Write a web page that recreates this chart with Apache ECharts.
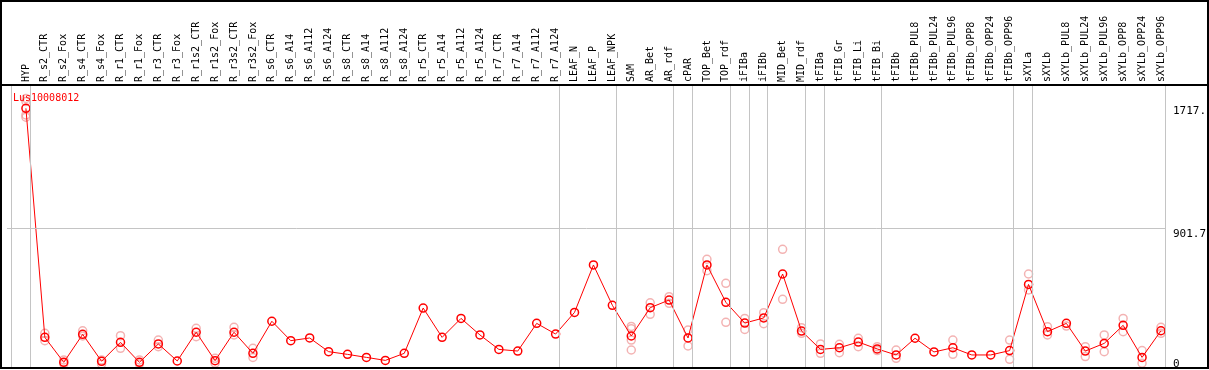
<!DOCTYPE html>
<html>
<head>
<meta charset="utf-8">
<script src="https://cdn.jsdelivr.net/npm/echarts@6/dist/echarts.min.js"></script>
<style>
  html, body { margin: 0; padding: 0; background: #fff; }
  #chart { width: 1209px; height: 370px; }
</style>
</head>
<body>
<div id="chart"></div>
<script>
const geneName = 'Lus10008012';

const categories = [
  'HYP', 'R_s2_CTR', 'R_s2_Fox', 'R_s4_CTR', 'R_s4_Fox', 'R_r1_CTR', 'R_r1_Fox', 'R_r3_CTR', 'R_r3_Fox',
  'R_r1s2_CTR', 'R_r1s2_Fox', 'R_r3s2_CTR', 'R_r3s2_Fox', 'R_s6_CTR', 'R_s6_A14', 'R_s6_A112', 'R_s6_A124',
  'R_s8_CTR', 'R_s8_A14', 'R_s8_A112', 'R_s8_A124', 'R_r5_CTR', 'R_r5_A14', 'R_r5_A112', 'R_r5_A124',
  'R_r7_CTR', 'R_r7_A14', 'R_r7_A112', 'R_r7_A124', 'LEAF_N', 'LEAF_P', 'LEAF_NPK', 'SAM', 'AR_Bet', 'AR_rdf',
  'cPAR', 'TOP_Bet', 'TOP_rdf', 'iFIBa', 'iFIBb', 'MID_Bet', 'MID_rdf', 'tFIBa', 'tFIB_Gr', 'tFIB_Li', 'tFIB_Bi',
  'tFIBb', 'tFIBb_PUL8', 'tFIBb_PUL24', 'tFIBb_PUL96', 'tFIBb_OPP8', 'tFIBb_OPP24', 'tFIBb_OPP96',
  'sXYLa', 'sXYLb', 'sXYLb_PUL8', 'sXYLb_PUL24', 'sXYLb_PUL96', 'sXYLb_OPP8', 'sXYLb_OPP24', 'sXYLb_OPP96'
];

// mean expression per sample
const means = [
  1699, 177, 11, 197, 18, 144, 11, 133, 20, 211, 22, 211, 71, 284, 155, 173, 82, 64, 44, 24, 71,
  372, 177, 303, 193, 97, 86, 270, 199, 343, 658, 390, 186, 374, 425, 173, 658, 410, 272, 306, 598,
  219, 97, 108, 146, 100, 60, 171, 80, 108, 60, 60, 89, 529, 215, 270, 86, 137, 257, 44, 221
];

// single replicates (pink circles)
const replicates = [
  [1765, 1745, 1655, 1640], [204, 155], [27, 0], [221, 186], [27, 0], [188, 104], [27, 0], [159, 115], [],
  [237, 181], [38, 5], [244, 193], [104, 44], [], [], [], [], [], [], [], [],
  [], [], [], [], [], [], [], [], [], [], [], [250, 235, 159, 93], [407, 330], [447, 403],
  [226, 120], [696, 620], [536, 277], [303, 230], [341, 268], [762, 430], [241, 204], [133, 71], [131, 75],
  [171, 115], [115, 89], [93, 38], [], [], [159, 64], [], [], [159, 31], [598, 492], [248, 193], [252],
  [115, 49], [193, 82], [303, 215], [89, 5], [244, 204]
];

// last sample index of each group (a grey separator follows it); -1 = before the first
const groupEnds = [-1, 0, 28, 31, 34, 35, 37, 38, 39, 41, 42, 45, 52, 53, 60];

const yTickValues = [901.7, 1717];
const yTickTexts = ['901.7', '1717.'];
const yZeroValue = [0];
const yZeroText = ['0'];

const mono = '"DejaVu Sans Mono", "Liberation Mono", monospace';
const sepShift = 0.21;

const meanData = means.map((v, i) => [i, v]);
const repData = [];
replicates.forEach((arr, i) => arr.forEach(v => repData.push([i, v])));

const chart = echarts.init(document.getElementById('chart'));

const option = {
  animation: false,
  backgroundColor: '#fff',
  title: {
    text: geneName,
    left: 8,
    top: 88,
    textStyle: {color: '#ff0000', fontSize: 10, fontWeight: 'normal', fontFamily: mono}
  },
  grid: {left: 7, right: 38, top: 85, bottom: 2, show: false},
  xAxis: {
    type: 'value',
    position: 'top',
    min: -1,
    max: 60.26,
    interval: 1,
    axisLine: {show: false},
    axisTick: {show: false},
    splitLine: {show: false},
    axisLabel: {
      rotate: 90,
      margin: 3,
      color: '#000',
      fontSize: 10,
      fontFamily: mono,
      showMaxLabel: false,
      formatter: v => (Number.isInteger(v) && categories[v]) ? categories[v] : ''
    }
  },
  yAxis: [{
    type: 'value',
    position: 'right',
    min: -26.6,
    max: 1854,
    axisLine: {show: false},
    axisTick: {show: false},
    splitLine: {show: false},
    axisLabel: {
      customValues: yTickValues,
      margin: 7,
      align: 'left',
      verticalAlign: 'top',
      color: '#000',
      fontSize: 11,
      fontFamily: mono,
      formatter: v => yTickTexts[yTickValues.indexOf(v)]
    }
  }, {
    type: 'value',
    position: 'right',
    min: -26.6,
    max: 1854,
    axisLine: {show: false},
    axisTick: {show: false},
    splitLine: {show: false},
    axisLabel: {
      customValues: yZeroValue,
      margin: 7,
      align: 'left',
      verticalAlign: 'middle',
      padding: [0, 0, 6, 0],
      color: '#000',
      fontSize: 11,
      fontFamily: mono,
      formatter: v => yZeroText[yZeroValue.indexOf(v)]
    }
  }],
  graphic: [
    {type: 'rect', shape: {x: 1, y: 1, width: 1207, height: 367}, style: {fill: 'none', stroke: '#000', lineWidth: 2}, z: 100},
    {type: 'line', shape: {x1: 0, y1: 85, x2: 1209, y2: 85}, style: {stroke: '#000', lineWidth: 2}, z: 100}
  ],
  series: [{
    type: 'scatter',
    data: repData,
    symbol: 'circle',
    symbolSize: 8,
    itemStyle: {color: 'rgba(0,0,0,0)', borderColor: '#f0a0a0', borderWidth: 1.5},
    z: 2
  }, {
    type: 'line',
    data: meanData,
    symbol: 'circle',
    symbolSize: 8,
    lineStyle: {color: '#ff0000', width: 1},
    itemStyle: {color: 'rgba(0,0,0,0)', borderColor: '#ff0000', borderWidth: 1.5},
    z: 3,
    markLine: {
      silent: true,
      symbol: 'none',
      animation: false,
      label: {show: false},
      lineStyle: {color: '#c4c4c4', width: 1, type: 'solid'},
      data: groupEnds.map(g => ({xAxis: g + sepShift})).concat([{yAxis: 901.7}])
    }
  }]
};

chart.setOption(option);
</script>
</body>
</html>
